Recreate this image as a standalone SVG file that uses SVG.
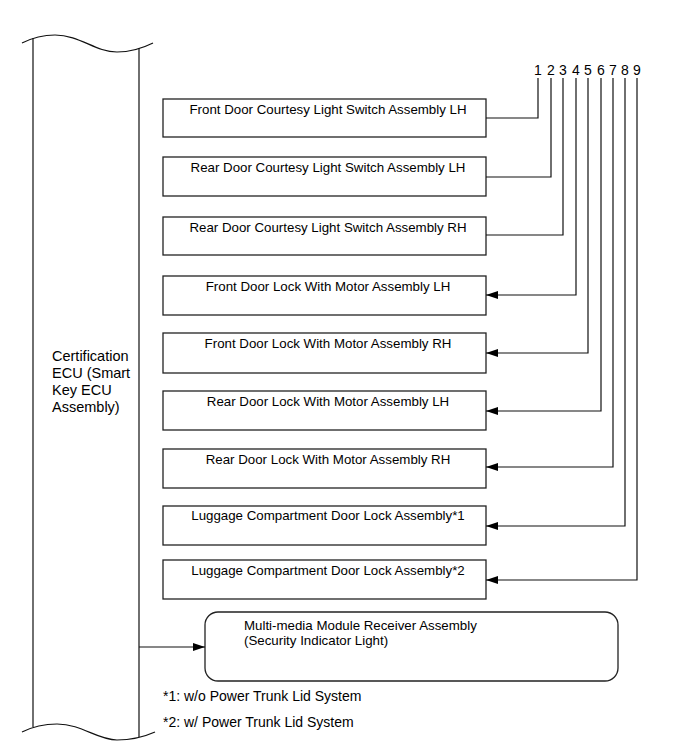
<svg xmlns="http://www.w3.org/2000/svg" width="689" height="756" viewBox="0 0 689 756">
<style>
.box{fill:#fff;stroke:#222;stroke-width:1.3}
.ln{fill:none;stroke:#111;stroke-width:1.2}
.t{font-family:"Liberation Sans",Arial,sans-serif;font-size:13.3px;fill:#000}
.tm{text-anchor:middle}
.num{font-family:"Liberation Sans",Arial,sans-serif;font-size:14px;fill:#000;text-anchor:middle}
.ecu{font-family:"Liberation Sans",Arial,sans-serif;font-size:14.5px;fill:#000}
.fn{font-family:"Liberation Sans",Arial,sans-serif;font-size:14px;fill:#000}
</style>
<defs>
<marker id="arr" markerWidth="12" markerHeight="8" refX="12" refY="4" orient="auto" markerUnits="userSpaceOnUse">
<path d="M0,0 L12,4 L0,8 Z" fill="#000"/>
</marker>
</defs>
<rect width="689" height="756" fill="#fff"/>
<g id="ecu">
<path class="ln" d="M33,38 L33,727 M139,48 L139,737"/>
<path class="ln" d="M22,43 Q38,35 55,35 C80,35 95,52 117,52 Q135,52 153,43"/>
<path class="ln" d="M22,732 Q38,724 57,724 C82,724 97,740 117,740 Q137,740 155,732"/>
<text class="ecu" x="52" y="361">Certification</text>
<text class="ecu" x="52" y="378">ECU (Smart</text>
<text class="ecu" x="52" y="395">Key ECU</text>
<text class="ecu" x="52" y="412">Assembly)</text>
</g>
<g id="b1"><rect class="box" x="163" y="99" width="323" height="38"/><text class="t tm" x="328" y="114">Front Door Courtesy Light Switch Assembly LH</text></g>
<g id="b2"><rect class="box" x="163" y="157" width="323" height="39"/><text class="t tm" x="328" y="172">Rear Door Courtesy Light Switch Assembly LH</text></g>
<g id="b3"><rect class="box" x="163" y="217" width="323" height="38"/><text class="t tm" x="328" y="232">Rear Door Courtesy Light Switch Assembly RH</text></g>
<g id="b4"><rect class="box" x="163" y="276" width="323" height="39"/><text class="t tm" x="328" y="291">Front Door Lock With Motor Assembly LH</text></g>
<g id="b5"><rect class="box" x="163" y="333" width="323" height="40"/><text class="t tm" x="328" y="348">Front Door Lock With Motor Assembly RH</text></g>
<g id="b6"><rect class="box" x="163" y="391" width="323" height="39"/><text class="t tm" x="328" y="406">Rear Door Lock With Motor Assembly LH</text></g>
<g id="b7"><rect class="box" x="163" y="449" width="323" height="39"/><text class="t tm" x="328" y="464">Rear Door Lock With Motor Assembly RH</text></g>
<g id="b8"><rect class="box" x="163" y="506" width="323" height="39"/><text class="t tm" x="328" y="520">Luggage Compartment Door Lock Assembly*1</text></g>
<g id="b9"><rect class="box" x="163" y="560" width="323" height="39"/><text class="t tm" x="328" y="575">Luggage Compartment Door Lock Assembly*2</text></g>
<g id="mm"><rect class="box" x="205" y="612" width="413" height="69" rx="13" ry="13"/>
<text class="t" x="244" y="630">Multi-media Module Receiver Assembly</text>
<text class="t" x="244" y="645">(Security Indicator Light)</text></g>
<g id="nums">
<text class="num" x="538" y="75">1</text>
<text class="num" x="551" y="75">2</text>
<text class="num" x="563" y="75">3</text>
<text class="num" x="576" y="75">4</text>
<text class="num" x="588" y="75">5</text>
<text class="num" x="601" y="75">6</text>
<text class="num" x="613" y="75">7</text>
<text class="num" x="625" y="75">8</text>
<text class="num" x="637" y="75">9</text>
</g>
<g id="connectors">
<path class="ln" d="M538,78 L538,118 L486,118"/>
<path class="ln" d="M551,78 L551,177 L486,177"/>
<path class="ln" d="M563,78 L563,235 L486,235"/>
<path class="ln" d="M576,78 L576,295 L486,295" marker-end="url(#arr)"/>
<path class="ln" d="M588,78 L588,353 L486,353" marker-end="url(#arr)"/>
<path class="ln" d="M601,78 L601,411 L486,411" marker-end="url(#arr)"/>
<path class="ln" d="M613,78 L613,467 L486,467" marker-end="url(#arr)"/>
<path class="ln" d="M625,78 L625,526 L486,526" marker-end="url(#arr)"/>
<path class="ln" d="M637,78 L637,580 L486,580" marker-end="url(#arr)"/>
<path class="ln" d="M139,647 L205,647" marker-end="url(#arr)"/>
</g>
<g id="notes">
<text class="fn" x="163" y="701">*1: w/o Power Trunk Lid System</text>
<text class="fn" x="163" y="727">*2: w/ Power Trunk Lid System</text>
</g>
</svg>
